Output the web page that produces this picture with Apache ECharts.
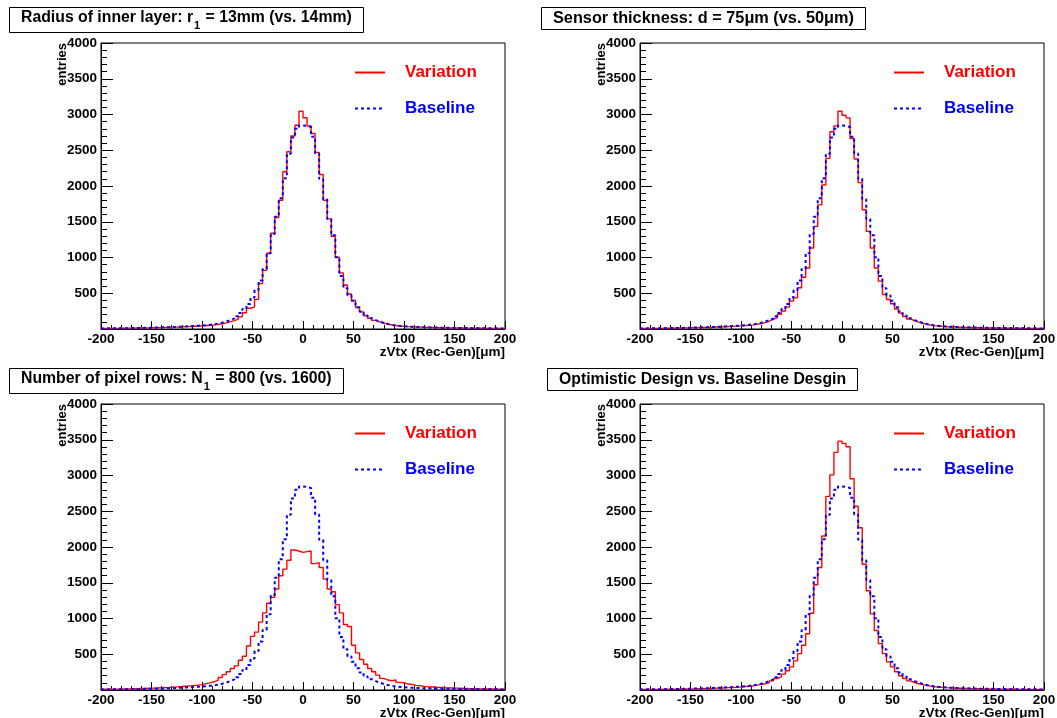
<!DOCTYPE html>
<html><head><meta charset="utf-8">
<script src="https://cdn.jsdelivr.net/npm/echarts@6/dist/echarts.min.js"></script>
<style>html,body{margin:0;padding:0;background:#fff}#c{width:1057px;height:718px}</style>
</head><body><div id="c"></div>
<script>
// ---- data ----
const BIN_LOW = -200, BIN_WIDTH = 4;           // 100 bins from -200 to 200 um
const xTickValues = [-200,-150,-100,-50,0,50,100,150,200];
const yTickValues = [500,1000,1500,2000,2500,3000,3500,4000];

const baseline = [
  8,9,9,10,11,11,12,13,14,15,16,17,19,20,22,24,26,28,30,33,36,39,42,45,48,
  52,58,66,76,88,104,122,148,180,225,280,350,440,545,680,840,1060,1330,1570,1830,2110,2450,2680,2800,2845,
  2840,2825,2690,2455,2100,1815,1540,1310,1005,740,570,470,395,305,245,190,150,125,102,85,70,58,48,43,38,
  34,31,29,27,25,23,21,20,19,18,17,16,15,14,13,13,12,11,11,10,10,9,9,8,8
];
const varRadius = [
  7,8,9,9,10,11,12,12,13,14,15,16,18,19,21,23,24,26,28,31,33,36,39,42,45,
  48,52,56,64,74,86,100,118,138,170,228,290,310,415,635,820,1060,1340,1560,1800,2200,2480,2700,2850,3046,
  2955,2840,2735,2470,2160,1800,1540,1295,1005,785,615,490,400,300,240,185,148,120,100,84,68,56,48,42,37,
  33,30,28,26,24,22,21,19,18,17,16,15,14,14,13,12,12,11,10,10,9,9,8,8,7
];
const varThickness = [
  7,7,8,9,9,10,11,12,13,14,15,16,17,18,20,21,23,25,27,29,31,34,37,40,43,
  47,52,58,66,76,90,111,135,158,204,251,306,390,436,576,724,854,1133,1435,1736,2015,2386,2758,2841,3046,
  2990,2953,2665,2377,2047,1667,1365,1133,854,669,483,413,353,280,222,175,140,115,95,80,66,55,47,41,36,
  32,29,27,25,23,21,20,18,17,16,15,14,13,13,12,11,11,10,10,9,9,8,8,7,7
];
const varRows = [
  10,10,11,12,13,14,15,17,18,20,22,24,26,28,31,33,36,40,44,48,53,58,63,68,75,
  90,100,115,138,175,215,255,300,338,417,472,616,750,810,949,1079,1213,1296,1412,1597,1690,1815,1958,1944,1925,
  1935,1944,1768,1782,1713,1551,1412,1375,1194,1079,917,889,625,519,426,361,301,255,208,162,139,130,139,106,102,
  83,79,65,60,51,46,42,38,35,32,30,28,26,24,22,20,19,17,16,15,14,13,12,11,10
];
const varOptimistic = [
  7,7,8,8,9,10,10,11,12,13,14,15,16,17,19,20,22,24,26,28,30,33,36,39,43,
  48,53,60,68,78,88,100,128,160,185,222,269,324,407,509,625,787,1074,1472,1713,2153,2708,3009,3324,3481,
  3449,3403,2954,2569,2269,1759,1389,1065,833,648,509,394,324,255,200,160,128,105,88,75,63,54,46,41,37,
  33,30,27,25,23,21,19,18,17,16,15,14,13,12,12,11,10,10,9,9,8,8,7,7,7
];
const titles = [
  '{t|Radius of inner layer: r}{s|1}{t| = 13mm (vs. 14mm)}',
  '{w|Sensor thickness: d = 75μm (vs. 50μm)}',
  '{t|Number of pixel rows: N}{s|1}{t| = 800 (vs. 1600)}',
  '{t|Optimistic Design vs. Baseline Desgin}'
];
const variations = [varRadius, varThickness, varRows, varOptimistic];
const xTitle = 'zVtx (Rec-Gen)[μm]';
const yTitle = 'entries';

// ---- layout ----
const FONT = '"Liberation Sans", Arial, Helvetica, sans-serif';
const grids = [
  {left:101, top:43, width:404, height:286},
  {left:640, top:43, width:404, height:286},
  {left:101, top:404, width:404, height:286},
  {left:640, top:404, width:404, height:286}
];
const titlePos = [
  {left:9, top:7}, {left:541, top:7}, {left:9, top:368}, {left:547, top:368}
];

function histPoints(vals){
  const pts = vals.map((v,i)=>[BIN_LOW + i*BIN_WIDTH, v]);
  pts.push([BIN_LOW + vals.length*BIN_WIDTH, vals[vals.length-1]]);
  return pts;
}

const option = {
  animation:false,
  backgroundColor:'#fff',
  textStyle:{fontFamily:FONT},
  title: titles.map((t,i)=>({
    text:t, left:titlePos[i].left, top:titlePos[i].top,
    padding: t.indexOf('{s|')>=0 ? [3,12,2,12] : [4,12,3,12],
    borderColor:'#000', borderWidth:1, backgroundColor:'#fff',
    textStyle:{
      rich:{
        t:{fontFamily:FONT, fontSize:15.8, fontWeight:'bold', color:'#000', lineHeight:18, verticalAlign:'top'},
        w:{fontFamily:FONT, fontSize:16.3, fontWeight:'bold', color:'#000', lineHeight:18, verticalAlign:'top'},
        s:{fontFamily:FONT, fontSize:11, fontWeight:'bold', color:'#000', lineHeight:12, padding:[10,1,0,1], verticalAlign:'top'}
      }
    }
  })),
  grid: grids.map(g=>Object.assign({show:true, borderColor:'#000', borderWidth:1, backgroundColor:'transparent', containLabel:false, outerBoundsMode:'none'}, g)),
  legend: grids.map(g=>({
    orient:'vertical', left:g.left+248, top:g.top+16,
    itemWidth:30, itemHeight:14, itemGap:19,
    itemStyle:{opacity:0, color:'transparent', borderWidth:0},
    data:[
      {name:'Variation', textStyle:{color:'#ff0000'}},
      {name:'Baseline', textStyle:{color:'#0000ff'}}
    ],
    textStyle:{fontFamily:FONT, fontSize:17, fontWeight:'bold', padding:[0,0,0,15]},
    selectedMode:false
  })),
  xAxis: grids.map((g,i)=>({
    type:'value', gridIndex:i, min:xTickValues[0], max:xTickValues[xTickValues.length-1], interval:50,
    axisLine:{show:true, onZero:false, lineStyle:{color:'#000', width:1}},
    axisTick:{show:true, inside:true, length:8, lineStyle:{color:'#000'}},
    minorTick:{show:true, splitNumber:5, length:4, lineStyle:{color:'#000'}},
    splitLine:{show:false}, minorSplitLine:{show:false},
    axisLabel:{fontFamily:FONT, fontSize:13.5, fontWeight:'bold', color:'#000', margin:3},
    name:xTitle, nameLocation:'end', nameGap:0, nameMoveOverlap:false,
    nameTextStyle:{fontFamily:FONT, fontSize:13.5, fontWeight:'bold', color:'#000', align:'right', verticalAlign:'top', padding:[16,0,0,0]}
  })),
  yAxis: grids.map((g,i)=>({
    type:'value', gridIndex:i, min:0, max:yTickValues[yTickValues.length-1], interval:500,
    axisLine:{show:true, onZero:false, lineStyle:{color:'#000', width:1}},
    axisTick:{show:true, inside:true, length:12, lineStyle:{color:'#000'}},
    minorTick:{show:true, splitNumber:5, length:6, lineStyle:{color:'#000'}},
    splitLine:{show:false}, minorSplitLine:{show:false},
    axisLabel:{fontFamily:FONT, fontSize:13.5, fontWeight:'bold', color:'#000', margin:4,
      formatter:v=> yTickValues.indexOf(v)>=0 ? String(v) : ''}
  })),
  graphic: grids.map(g=>({
    type:'text', x:g.left-39, y:g.top, rotation:Math.PI/2,
    style:{text:yTitle, fontFamily:FONT, fontSize:13, fontWeight:'bold', fill:'#000', align:'right', verticalAlign:'middle'}
  })),
  series: []
};
grids.forEach((g,i)=>{
  option.series.push({
    name:'Variation', type:'line', step:'end', xAxisIndex:i, yAxisIndex:i,
    data:histPoints(variations[i]), symbol:'none', showSymbol:false,
    lineStyle:{color:'#ff0000', width:1.4}, itemStyle:{color:'#ff0000'}, z:3
  });
  option.series.push({
    name:'Baseline', type:'line', step:'end', xAxisIndex:i, yAxisIndex:i,
    data:histPoints(baseline), symbol:'none', showSymbol:false,
    lineStyle:{color:'#0000ff', width:2, type:[3,3]}, itemStyle:{color:'#0000ff'}, z:4
  });
});
const chart = echarts.init(document.getElementById('c'), null, {renderer:'canvas'});
chart.setOption(option);
</script></body></html>
